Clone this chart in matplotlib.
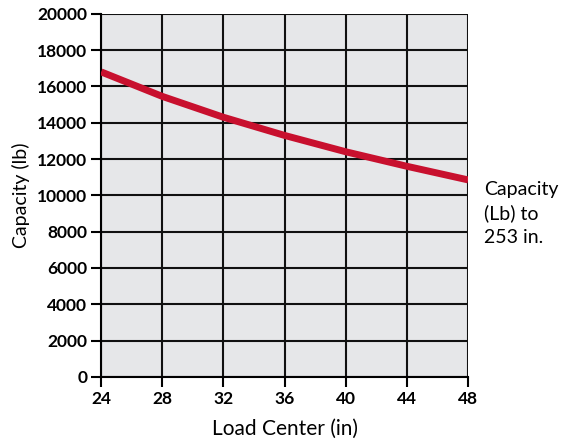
import numpy as np
import matplotlib.pyplot as plt

plt.rcParams.update({'font.family': ['Lato', 'DejaVu Sans']})

# data
load_center = [24, 28, 32, 36, 40, 44, 48]
capacity = [16800, 15450, 14300, 13300, 12400, 11600, 10850]
x_ticks = [24, 28, 32, 36, 40, 44, 48]
y_ticks = list(range(0, 20001, 2000))

fig = plt.figure(figsize=(5.62, 4.45), dpi=100)
ax = fig.add_axes([0.18, 0.153, 0.653, 0.816])

ax.set_facecolor('#e6e7e9')
ax.plot(load_center, capacity, color='#c8102e', linewidth=5, solid_capstyle='butt', zorder=3)

ax.set_xlim(24, 48)
ax.set_ylim(0, 20000)
ax.set_xticks(x_ticks)
ax.set_yticks(y_ticks)
ax.tick_params(axis='both', direction='out', length=7, width=1.5, color='black',
               labelsize=12.5, pad=3)
for lab in ax.get_xticklabels() + ax.get_yticklabels():
    lab.set_fontweight('bold')

ax.grid(True, color='#111111', linewidth=1.5, zorder=1)
ax.set_axisbelow(True)
for side in ['top', 'right']:
    ax.spines[side].set_visible(False)
for side in ['left', 'bottom']:
    ax.spines[side].set_linewidth(1.5)

ax.set_xlabel('Load Center (in)', fontsize=15, labelpad=9)
ax.set_ylabel('Capacity (lb)', fontsize=14, labelpad=5)

fig.text(0.861, 0.521, 'Capacity\n(Lb) to\n253 in.', fontsize=14, va='center',
         ha='left', linespacing=1.45)

fig.savefig('out.png', dpi=100)
